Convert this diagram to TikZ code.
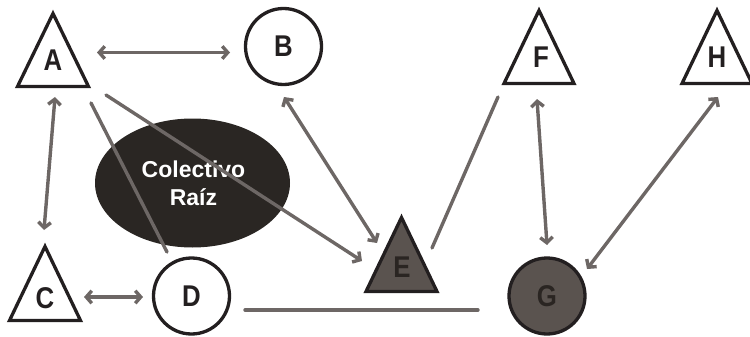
\documentclass[tikz,border=0pt]{standalone}
\usepackage{fontspec}
\setmainfont{Liberation Sans}
\newfontfamily\lblfont[FakeStretch=0.86]{Liberation Sans}
\usetikzlibrary{arrows.meta}
\definecolor{ink}{HTML}{231F20}
\definecolor{conn}{HTML}{6D6765}
\definecolor{shade}{HTML}{5A534F}
\definecolor{blob}{HTML}{2A2623}
\definecolor{darkletter}{HTML}{2A2522}
\tikzset{
  shapeline/.style={draw=ink, line width=3.3pt, line join=miter},
  lblfontstyle/.style={font=\lblfont\fontsize{30}{32}\selectfont\bfseries},
  lbl/.style={inner sep=0pt, lblfontstyle, text=ink},
  dlbl/.style={lbl, text=darkletter},
  ring/.style={circle, shapeline, minimum size=76pt, inner sep=0pt, lblfontstyle},
  link/.style={draw=conn, line width=3.4pt, line cap=round},
  tipend/.style={-{Straight Barb[length=5.5pt,width=12.5pt]}},
  tipboth/.style={{Straight Barb[length=5.5pt,width=12.5pt]}-{Straight Barb[length=5.5pt,width=12.5pt]}},
}
\begin{document}
\begin{tikzpicture}[x=1pt,y=-1pt]
\useasboundingbox (0,0) rectangle (750,337);
% ellipse
\fill[blob] (192.5,183) ellipse [x radius=97.5pt, y radius=64.5pt];
\node[inner sep=0pt, align=center, text=white, font=\fontsize{23}{28}\selectfont\bfseries] (R) at (193.5,183) {Colectivo\\Raíz};
% triangles
\draw[shapeline, fill=white] (53,13.5) -- (17.5,86.5) -- (88.5,86.5) -- cycle;
\node[lbl] (A) at (53,60.5) {A};
\draw[shapeline, fill=white] (45,246.5) -- (9.5,320.5) -- (80.5,320.5) -- cycle;
\node[lbl] (C) at (45,298) {C};
\draw[shapeline, fill=shade] (401.5,217.5) -- (366,291.5) -- (437,291.5) -- cycle;
\node[dlbl] (E) at (402,267.5) {E};
\draw[shapeline, fill=white] (539,10.5) -- (504,83.5) -- (574,83.5) -- cycle;
\node[lbl] (F) at (541,57) {F};
\draw[shapeline, fill=white] (717,10.5) -- (682,83.5) -- (752,83.5) -- cycle;
\node[lbl] (H) at (717,57) {H};
% circles
\node[ring, fill=white, text=ink] (B) at (283.5,46.5) {B};
\node[ring, fill=white, text=ink] (D) at (191.5,296) {D};
\node[ring, fill=shade, text=darkletter] (G) at (547,296) {G};
% connector ends
\coordinate (ab1) at (97,52.5);  \coordinate (ab2) at (230,52.5);
\coordinate (ac1) at (55,97);    \coordinate (ac2) at (44,230);
\coordinate (cd1) at (84,297);   \coordinate (cd2) at (143,297);
\coordinate (ad1) at (91,103);   \coordinate (ad2) at (167,252);
\coordinate (ae1) at (106,95);   \coordinate (ae2) at (362,261);
\coordinate (be1) at (284,97);   \coordinate (be2) at (377,243);
\coordinate (ef1) at (432,248);  \coordinate (ef2) at (498,97);
\coordinate (fg1) at (537,99);   \coordinate (fg2) at (547,245);
\coordinate (hg1) at (718,97);   \coordinate (hg2) at (587,269);
\coordinate (dg1) at (245,310);  \coordinate (dg2) at (478,310);
% connectors
\draw[link, tipboth] (ab1) -- (ab2);
\draw[link, tipboth] (ac1) -- (ac2);
\draw[link, tipboth] (cd1) -- (cd2);
\draw[link] (ad1) -- (ad2);
\draw[link, tipend] (ae1) -- (ae2);
\draw[link, tipboth] (be1) -- (be2);
\draw[link] (ef1) -- (ef2);
\draw[link, tipboth] (fg1) -- (fg2);
\draw[link, tipboth] (hg1) -- (hg2);
\draw[link] (dg1) -- (dg2);
\end{tikzpicture}
\end{document}
